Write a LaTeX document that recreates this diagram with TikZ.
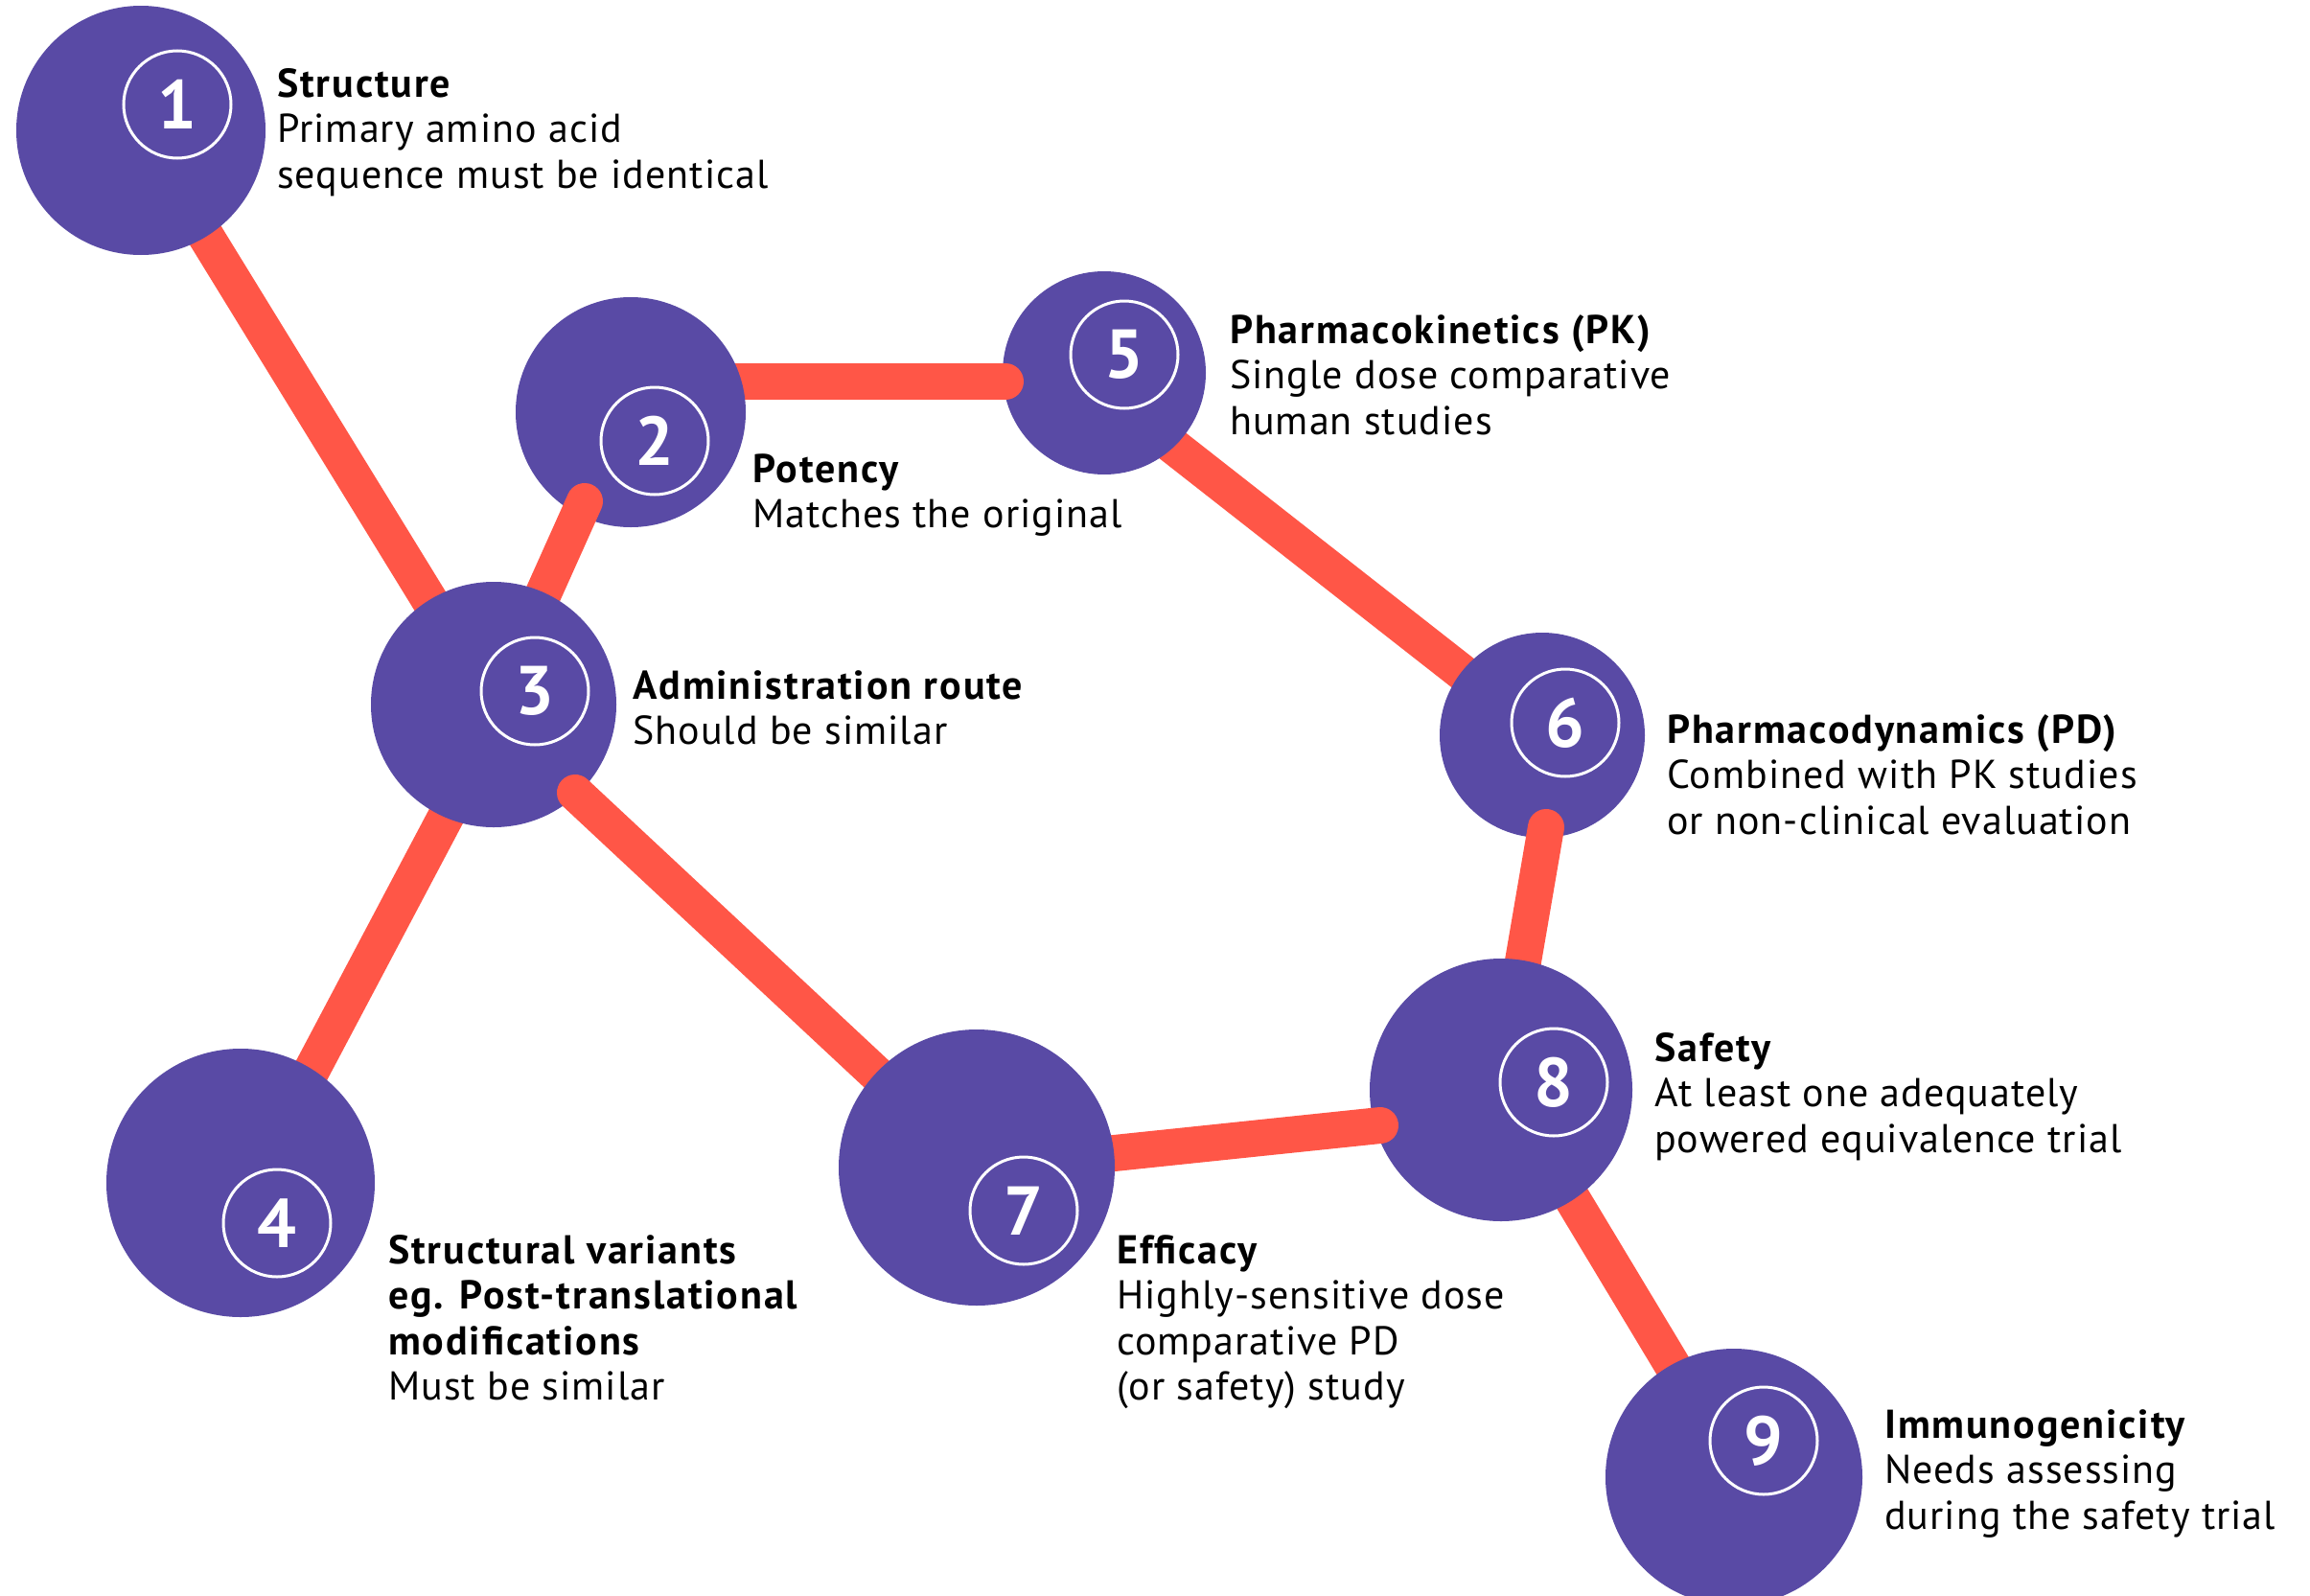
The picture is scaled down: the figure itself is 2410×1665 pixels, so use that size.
\documentclass[tikz,border=0pt]{standalone}
\usepackage{fontspec}
\setmainfont{PT Sans}[LetterSpace=2.5,BoldFeatures={LetterSpace=4.5}]
\usetikzlibrary{calc}
\definecolor{ballpurple}{RGB}{89,74,165}
\definecolor{linkred}{RGB}{255,86,71}

\begin{document}
\begin{tikzpicture}[x=1pt,y=-1pt,
  link/.style={draw=linkred,line width=38pt,line cap=round},
  ball/.style={circle,fill=ballpurple,draw=none,inner sep=0pt,minimum size=#1},
  badge/.style={circle,draw=white,line width=3pt,minimum size=112pt,inner sep=0pt,
    text=white,font=\fontsize{72}{72}\selectfont\bfseries},
  caption/.style={anchor=base west,inner sep=0pt,font=\fontsize{42}{47.5}\selectfont}]

\fill[white] (0,0) rectangle (2410,1665);
\useasboundingbox (0,0) rectangle (2410,1665);
\clip (0,0) rectangle (2410,1665);

% centres of the nine stages
\coordinate (n1) at (147,136);
\coordinate (n2) at (658,430);
\coordinate (n3) at (515,735);
\coordinate (n4) at (251,1234);
\coordinate (n5) at (1152,389);
\coordinate (n6) at (1609,767);
\coordinate (n7) at (1019,1218);
\coordinate (n8) at (1566,1137);
\coordinate (n9) at (1809,1541);

% links passing under both balls
\draw[link] (n1) -- (n3);
\draw[link] ($(n3)+(12,0)$) -- ($(n4)+(12,0)$);
\draw[link] ($(n8)+(6,0)$) -- ($(n9)+(6,0)$);
\draw[link] ($(n5)+(0,20)$) -- (n6);

% balls and the links that start on top of them
\node[ball=212pt] (c5) at (n5) {};
\draw[link] ($(n2)+(0,-32)$) -- ($(c5.center)+(-103,9)$);
\node[ball=240pt] (c2) at (n2) {};
\draw[link] ($(c2.center)+(-48,93)$) -- (n3);
\node[ball=256pt] (c3) at (n3) {};
\draw[link] ($(c3.center)+(85,92)$) -- (n7);
\node[ball=214pt] (c6) at (n6) {};
\draw[link] ($(c6.center)+(4,96)$) -- (n8);
\node[ball=274pt] (c8) at (n8) {};
\draw[link] ($(c8.center)+(-126,37)$) -- (n7);
\node[ball=288pt] (c7) at (n7) {};
\node[ball=260pt] (c1) at (n1) {};
\node[ball=280pt] (c4) at (n4) {};
\node[ball=268pt] (c9) at (n9) {};

% numbered badges
\node[badge] (b1) at (185,109) {1};
\node[badge] (b2) at (683,460) {2};
\node[badge] (b3) at (558,721) {3};
\node[badge] (b4) at (289,1276) {4};
\node[badge] (b5) at (1173,370) {5};
\node[badge] (b6) at (1633,754) {6};
\node[badge] (b7) at (1068,1263) {7};
\node[badge] (b8) at (1621,1129) {8};
\node[badge] (b9) at (1840,1503) {9};

% captions
\node[caption] (t1) at (289,101) {\begin{tabular}[t]{@{}l@{}}\bfseries Structure\\Primary amino acid\\sequence must be identical\end{tabular}};
\node[caption] (t2) at (785,503) {\begin{tabular}[t]{@{}l@{}}\bfseries Potency\\Matches the original\end{tabular}};
\node[caption] (t3) at (660,729) {\begin{tabular}[t]{@{}l@{}}\bfseries Administration route\\Should be similar\end{tabular}};
\node[caption] (t4) at (405,1318) {\begin{tabular}[t]{@{}l@{}}\bfseries Structural variants\\\bfseries eg. Post-translational\\\bfseries modifications\\Must be similar\end{tabular}};
\node[caption] (t5) at (1283,358) {\begin{tabular}[t]{@{}l@{}}\bfseries Pharmacokinetics (PK)\\Single dose comparative\\human studies\end{tabular}};
\node[caption] (t6) at (1739,775) {\begin{tabular}[t]{@{}l@{}}\bfseries Pharmacodynamics (PD)\\Combined with PK studies\\or non-clinical evaluation\end{tabular}};
\node[caption] (t7) at (1165,1318) {\begin{tabular}[t]{@{}l@{}}\bfseries Efficacy\\Highly-sensitive dose\\comparative PD\\(or safety) study\end{tabular}};
\node[caption] (t8) at (1726,1107) {\begin{tabular}[t]{@{}l@{}}\bfseries Safety\\At least one adequately\\powered equivalence trial\end{tabular}};
\node[caption] (t9) at (1966,1500) {\begin{tabular}[t]{@{}l@{}}\bfseries Immunogenicity\\Needs assessing\\during the safety trial\end{tabular}};
\end{tikzpicture}
\end{document}
